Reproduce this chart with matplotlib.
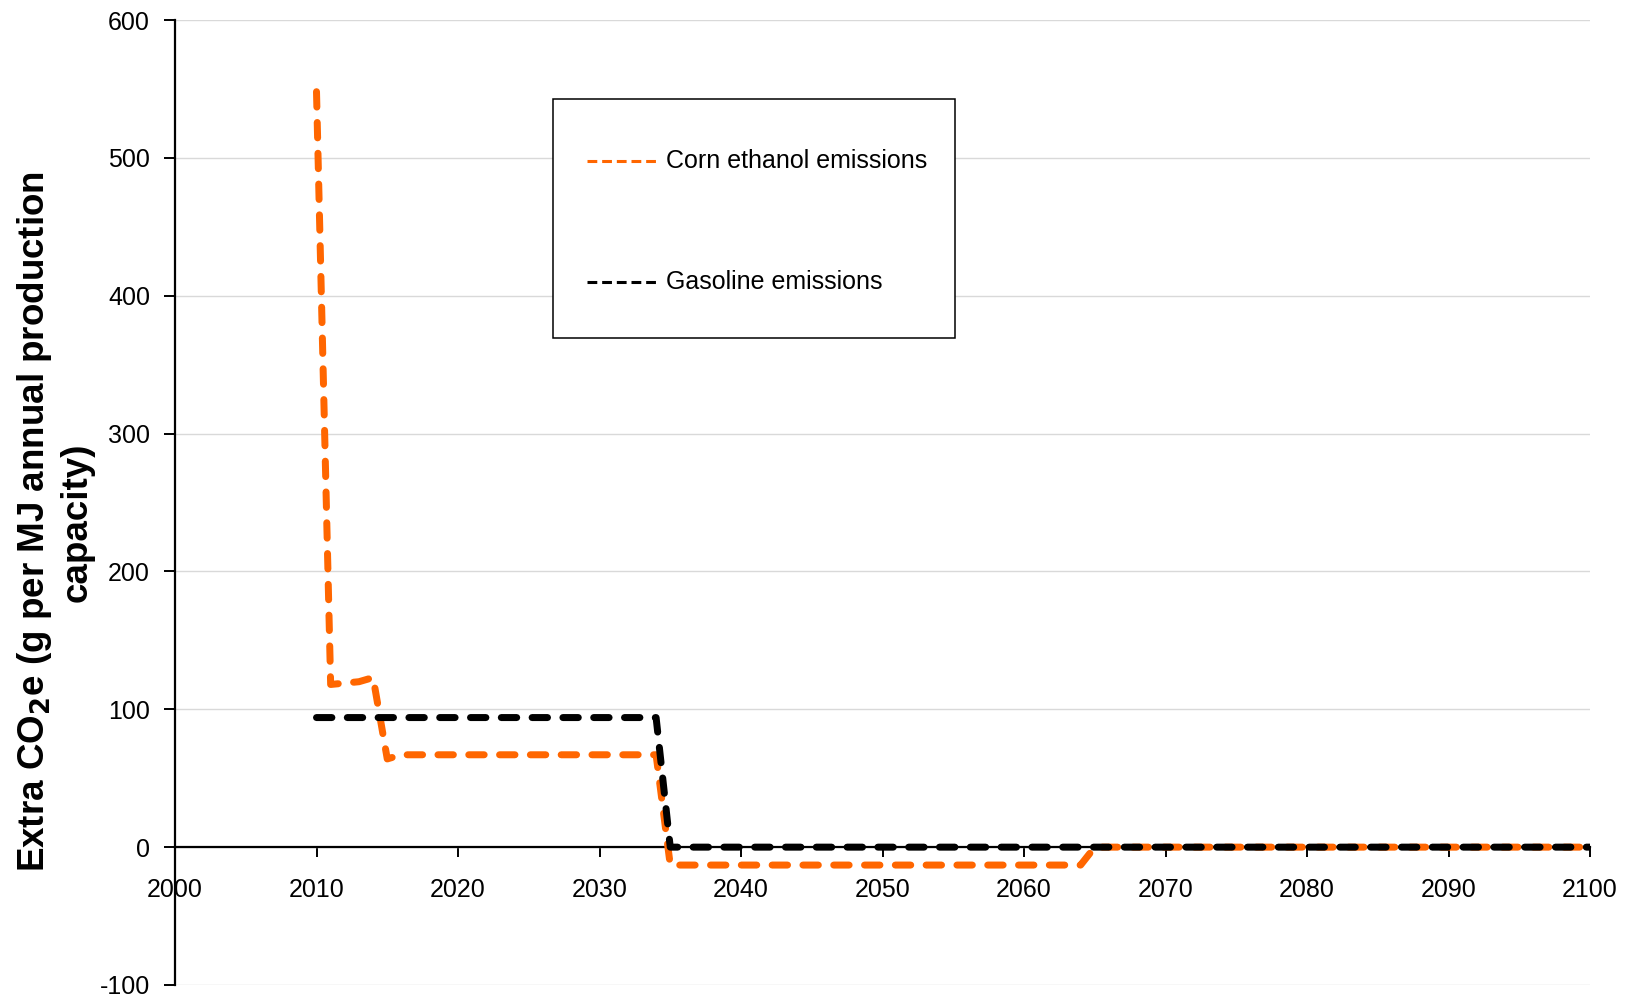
import matplotlib
matplotlib.use("Agg")
import matplotlib.pyplot as plt
from matplotlib.patches import Rectangle

# ---- data ----
ethanol_years = [2010, 2011, 2012, 2013, 2014, 2015, 2016, 2034, 2035, 2064, 2065, 2100]
ethanol_vals  = [548, 118, 119, 120, 123, 64, 67, 67, -13, -13, 0, 0]
gasoline_years = [2010, 2034, 2035, 2100]
gasoline_vals  = [94, 94, 0, 0]
legend_labels = ["Corn ethanol emissions", "Gasoline emissions"]
x_ticks = list(range(2000, 2101, 10))
y_ticks = list(range(-100, 601, 100))
ylabel = "Extra CO$_\\mathbf{2}$e (g per MJ annual production\ncapacity)"

ORANGE = "#FF6600"
BLACK = "#000000"

plt.rcParams['font.family'] = ['Liberation Sans', 'DejaVu Sans']
plt.rcParams['axes.unicode_minus'] = False

fig = plt.figure(figsize=(16.36, 9.98), dpi=100)
ax = fig.add_axes([175/1636, 1 - 985/998, 1415/1636, 965/998])

lw_px = 7
lw = lw_px * 0.72
dash = (2.2, 2.2)
ax.plot(ethanol_years, ethanol_vals, color=ORANGE, lw=lw, dashes=dash,
        dash_capstyle='round', solid_joinstyle='round', zorder=3)
ax.plot(gasoline_years, gasoline_vals, color=BLACK, lw=lw, dashes=dash,
        dash_capstyle='round', solid_joinstyle='round', zorder=4)

ax.set_xlim(2000, 2100)
ax.set_ylim(-100, 600)
ax.set_xticks(x_ticks)
ax.set_yticks(y_ticks)

ax.yaxis.grid(True, color="#D9D9D9", lw=1.0)
ax.set_axisbelow(True)

for s in ['top', 'right']:
    ax.spines[s].set_visible(False)
ax.spines['bottom'].set_position(('data', 0))
ax.spines['bottom'].set_linewidth(1.6)
ax.spines['left'].set_linewidth(1.6)
ax.spines['bottom'].set_zorder(2)

ax.tick_params(axis='y', direction='out', length=8, width=1.4, pad=10, labelsize=18)
ax.tick_params(axis='x', direction='out', length=7, width=1.4, pad=15, labelsize=18)

fig.text(55/1636, 1 - 522/998, ylabel, rotation=90, ha='center', va='center',
         multialignment='center', fontsize=26.5, fontweight='bold', linespacing=1.2)

# legend box (manual)
ax.add_patch(Rectangle((0.2671, 0.6705), 0.5512 - 0.2671, 0.9181 - 0.6705,
                       transform=ax.transAxes, facecolor='white', edgecolor='black',
                       lw=1.1, zorder=6))
rows_y = [0.8539, 0.7285]
for lab, col, yy in zip(legend_labels, [ORANGE, BLACK], rows_y):
    ax.plot([0.2912, 0.3413], [yy, yy], transform=ax.transAxes, color=col,
            lw=2.2, dashes=(3.2, 1.6), dash_capstyle='butt', zorder=7)
    ax.text(0.3470, yy, lab, transform=ax.transAxes, ha='left', va='center',
            fontsize=18, zorder=7)

fig.savefig("out.png", dpi=100)
